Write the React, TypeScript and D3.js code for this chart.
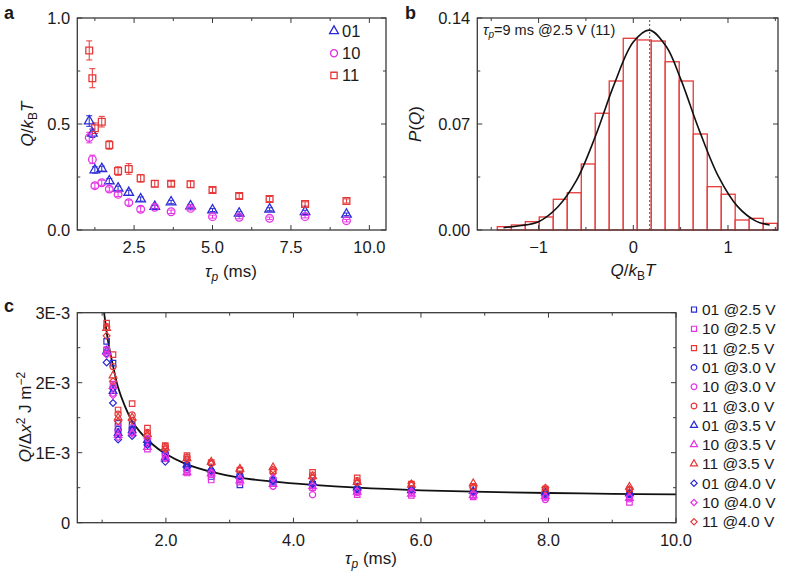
import React from 'react';
import * as d3 from 'd3';

// ---------------- DATA ----------------
// pulse durations (ms)
const TAU = [1.07, 1.17, 1.25, 1.47, 1.71, 1.99, 2.33, 2.71, 3.16, 3.68, 4.3, 5.0, 5.85, 6.82, 7.95, 9.27];

// Panel a: Q/kBT per bit state
const A_01 = [0.514, 0.456, 0.283, 0.289, 0.231, 0.197, 0.176, 0.146, 0.11, 0.132, 0.113, 0.094, 0.079, 0.098, 0.086, 0.074];
const A_01_ERR = [0.025, 0.02, 0.015, 0.012, 0.012, 0.01, 0.012, 0.01, 0.008, 0.008, 0.008, 0.007, 0.007, 0.007, 0.007, 0.006];
const A_10 = [0.436, 0.333, 0.209, 0.223, 0.193, 0.168, 0.129, 0.098, 0.107, 0.086, 0.102, 0.063, 0.06, 0.055, 0.063, 0.044];
const A_10_ERR = [0.025, 0.02, 0.012, 0.012, 0.01, 0.01, 0.012, 0.012, 0.008, 0.008, 0.008, 0.007, 0.007, 0.006, 0.006, 0.006];
const A_11 = [0.847, 0.716, 0.48, 0.511, 0.401, 0.278, 0.288, 0.244, 0.218, 0.218, 0.216, 0.189, 0.16, 0.146, 0.123, 0.137];
const A_11_ERR = [0.045, 0.045, 0.025, 0.025, 0.02, 0.02, 0.025, 0.018, 0.015, 0.012, 0.015, 0.012, 0.012, 0.012, 0.01, 0.01];
const A_LEGEND = ['01', '10', '11'];

// Panel b: histogram of Q/kBT
const B_EDGES = [-1.436, -1.288, -1.14, -0.993, -0.845, -0.697, -0.549, -0.402, -0.254, -0.106, 0.042, 0.19, 0.337, 0.485, 0.633, 0.781, 0.929, 1.076, 1.224, 1.372, 1.52];
const B_P = [0.0022, 0.0033, 0.0055, 0.0086, 0.0203, 0.0246, 0.0436, 0.0771, 0.0984, 0.1266, 0.1255, 0.1248, 0.1111, 0.0984, 0.0634, 0.0286, 0.0236, 0.0066, 0.0077, 0.0044];
const B_FIT_X = [-1.37, -1.2, -1.0, -0.8, -0.6, -0.4, -0.2, 0.0, 0.17, 0.35, 0.5, 0.7, 0.9, 1.1, 1.3, 1.44];
const B_FIT_Y = [0.0015, 0.0028, 0.0055, 0.015, 0.0327, 0.0619, 0.0965, 0.1241, 0.132, 0.121, 0.0998, 0.0653, 0.0352, 0.0156, 0.0057, 0.0033];
const B_MEAN = 0.173;
const B_NOTE = '=9 ms @2.5 V (11)';

// Panel c: Q/Δx² (units of 1E-3 J m^-2)
const C_01_25 = [2.59, 2.28, 1.42, 1.4, 1.13, 0.97, 0.82, 0.66, 0.54, 0.58, 0.55, 0.48, 0.48, 0.44, 0.42, 0.41];
const C_10_25 = [2.47, 1.98, 1.36, 1.36, 1.05, 0.95, 0.71, 0.61, 0.58, 0.56, 0.5, 0.4, 0.39, 0.37, 0.36, 0.29];
const C_11_25 = [2.85, 2.4, 1.61, 1.7, 1.35, 1.1, 0.96, 0.86, 0.75, 0.74, 0.72, 0.64, 0.55, 0.52, 0.48, 0.47];
const C_01_30 = [2.42, 1.92, 1.33, 1.34, 1.15, 0.99, 0.8, 0.74, 0.68, 0.6, 0.56, 0.47, 0.47, 0.43, 0.4, 0.4];
const C_10_30 = [2.48, 1.85, 1.3, 1.3, 1.17, 0.96, 0.76, 0.69, 0.61, 0.52, 0.4, 0.43, 0.43, 0.38, 0.33, 0.34];
const C_11_30 = [2.8, 2.23, 1.55, 1.54, 1.29, 1.09, 0.94, 0.85, 0.74, 0.72, 0.68, 0.6, 0.53, 0.5, 0.47, 0.46];
const C_01_35 = [2.45, 1.88, 1.28, 1.32, 1.18, 0.93, 0.83, 0.76, 0.67, 0.62, 0.57, 0.5, 0.46, 0.45, 0.43, 0.42];
const C_10_35 = [2.44, 1.95, 1.25, 1.28, 1.08, 0.91, 0.72, 0.7, 0.6, 0.55, 0.52, 0.44, 0.41, 0.39, 0.38, 0.35];
const C_11_35 = [2.78, 2.1, 1.5, 1.5, 1.26, 1.07, 0.92, 0.87, 0.77, 0.79, 0.66, 0.58, 0.54, 0.56, 0.46, 0.51];
const C_01_40 = [2.29, 1.71, 1.19, 1.24, 1.11, 0.87, 0.79, 0.73, 0.66, 0.6, 0.55, 0.49, 0.47, 0.44, 0.42, 0.41];
const C_10_40 = [2.4, 1.82, 1.22, 1.27, 1.2, 0.92, 0.74, 0.72, 0.63, 0.64, 0.53, 0.45, 0.45, 0.42, 0.37, 0.37];
const C_11_40 = [2.67, 2.02, 1.45, 1.46, 1.24, 1.05, 0.9, 0.84, 0.75, 0.76, 0.64, 0.57, 0.56, 0.51, 0.5, 0.48];
const C_LABELS = ['01 @2.5 V', '10 @2.5 V', '11 @2.5 V', '01 @3.0 V', '10 @3.0 V', '11 @3.0 V', '01 @3.5 V', '10 @3.5 V', '11 @3.5 V', '01 @4.0 V', '10 @4.0 V', '11 @4.0 V'];
const C_FIT_TAU = [1.03, 1.1, 1.18, 1.25, 1.35, 1.47, 1.6, 1.75, 2.0, 2.3, 2.7, 3.15, 3.65, 4.3, 5.0, 6.0, 7.0, 8.0, 9.0, 10.0];
const C_FIT_Q = [3.0, 2.55, 2.2, 1.93, 1.68, 1.45, 1.29, 1.15, 0.98, 0.845, 0.73, 0.645, 0.59, 0.54, 0.5, 0.463, 0.44, 0.424, 0.413, 0.405];

// tick values
const A_XTICKS = [2.5, 5.0, 7.5, 10.0];
const A_XMINOR = [1.25, 3.75, 6.25, 8.75];
const A_YTICKS = [0, 0.5, 1.0];
const A_YMINOR = [0.25, 0.75];
const B_XTICKS = [-1, 0, 1];
const B_XMINOR = [-1.5, -0.5, 0.5, 1.5];
const B_YTICKS = [0, 0.07, 0.14];
const B_YMINOR = [0.035, 0.105];
const C_XTICKS = [2, 4, 6, 8, 10];
const C_XMINOR = [1, 3, 5, 7, 9];
const C_YTICKS = [0, 1, 2, 3];
const C_YTICK_LABELS = ['0', '1E-3', '2E-3', '3E-3'];
const C_YMINOR = [0.5, 1.5, 2.5];

// ---------------- STYLE ----------------
const FONT = "'Liberation Sans', Arial, Helvetica, sans-serif";
const BLUE = '#2a2ad8';
const MAGENTA = '#e432e4';
const RED = '#e63838';
const FRAME = '#3a3a3a';
const TXT = '#1a1a1a';
const TICK_FS = 16.5;
const TITLE_FS = 17;

const symType: Record<string, any> = {
  square: d3.symbolSquare,
  circle: d3.symbolCircle,
  triangle: d3.symbolTriangle,
  diamond: (d3 as any).symbolDiamond2 || d3.symbolDiamond,
};

function Marker({ shape, x, y, size, color, sw = 1.2 }: any) {
  const d = d3.symbol().type(symType[shape]).size(size)() as string;
  return <path d={d} transform={`translate(${x},${y})`} fill="none" stroke={color} strokeWidth={sw} />;
}

function Frame({ xs, ys, xt, xm, yt, ym, xfmt, yfmt }: any) {
  const [x0, x1] = xs.range();
  const [y0, y1] = ys.range(); // y0 bottom, y1 top
  const MJ = 5, MN = 3;
  const els: any[] = [];
  xt.forEach((v: number, i: number) => {
    const x = xs(v);
    els.push(<line key={'xt' + i} x1={x} x2={x} y1={y0} y2={y0 - MJ} stroke={FRAME} strokeWidth={1} />);
    els.push(<line key={'xtt' + i} x1={x} x2={x} y1={y1} y2={y1 + MJ} stroke={FRAME} strokeWidth={1} />);
    els.push(<text key={'xl' + i} x={x} y={y0 + 23} textAnchor="middle" fontSize={TICK_FS} fill={TXT}>{xfmt(v, i)}</text>);
  });
  xm.forEach((v: number, i: number) => {
    const x = xs(v);
    if (x < x0 || x > x1) return;
    els.push(<line key={'xm' + i} x1={x} x2={x} y1={y0} y2={y0 - MN} stroke={FRAME} strokeWidth={1} />);
    els.push(<line key={'xmt' + i} x1={x} x2={x} y1={y1} y2={y1 + MN} stroke={FRAME} strokeWidth={1} />);
  });
  yt.forEach((v: number, i: number) => {
    const y = ys(v);
    els.push(<line key={'yt' + i} x1={x0} x2={x0 + MJ} y1={y} y2={y} stroke={FRAME} strokeWidth={1} />);
    els.push(<line key={'ytr' + i} x1={x1} x2={x1 - MJ} y1={y} y2={y} stroke={FRAME} strokeWidth={1} />);
    els.push(<text key={'yl' + i} x={x0 - 7} y={y + 6} textAnchor="end" fontSize={TICK_FS} fill={TXT}>{yfmt(v, i)}</text>);
  });
  ym.forEach((v: number, i: number) => {
    const y = ys(v);
    els.push(<line key={'ym' + i} x1={x0} x2={x0 + MN} y1={y} y2={y} stroke={FRAME} strokeWidth={1} />);
    els.push(<line key={'ymr' + i} x1={x1} x2={x1 - MN} y1={y} y2={y} stroke={FRAME} strokeWidth={1} />);
  });
  return (
    <g>
      {els}
      <rect x={x0} y={y1} width={x1 - x0} height={y0 - y1} fill="none" stroke={FRAME} strokeWidth={1.3} />
    </g>
  );
}

export default function App() {
  // scales
  const xA = d3.scaleLinear().domain([0.69, 10.53]).range([77.3, 386]);
  const yA = d3.scaleLinear().domain([0, 1]).range([230, 18]);
  const xB = d3.scaleLinear().domain([-1.647, 1.528]).range([477.3, 778]);
  const yB = d3.scaleLinear().domain([0, 0.14]).range([230, 18]);
  const xC = d3.scaleLinear().domain([0.61, 10]).range([77.3, 676]);
  const yC = d3.scaleLinear().domain([0, 3]).range([522.7, 312.7]);

  const aSeries = [
    { name: A_LEGEND[0], vals: A_01, err: A_01_ERR, color: BLUE, shape: 'triangle', size: 40 },
    { name: A_LEGEND[1], vals: A_10, err: A_10_ERR, color: MAGENTA, shape: 'circle', size: 46 },
    { name: A_LEGEND[2], vals: A_11, err: A_11_ERR, color: RED, shape: 'square', size: 46 },
  ];

  const cVals = [C_01_25, C_10_25, C_11_25, C_01_30, C_10_30, C_11_30, C_01_35, C_10_35, C_11_35, C_01_40, C_10_40, C_11_40];
  const cColors = [BLUE, MAGENTA, RED];
  const cShapes = ['square', 'circle', 'triangle', 'diamond'];
  const cSizes: Record<string, number> = { square: 30, circle: 30, triangle: 26, diamond: 30 };
  const cSeries = cVals.map((vals, i) => ({
    label: C_LABELS[i],
    vals,
    color: cColors[i % 3],
    shape: cShapes[Math.floor(i / 3)],
  }));

  const gaussLine = d3.line<number>().x((_, i) => xB(B_FIT_X[i])).y((v) => yB(v)).curve(d3.curveCatmullRom.alpha(0.5));
  const fitLine = d3.line<number>().x((_, i) => xC(C_FIT_TAU[i])).y((v) => yC(v)).curve(d3.curveCatmullRom.alpha(0.5));

  const fmt1 = (v: number) => v.toFixed(1);
  const fmt2 = (v: number) => v.toFixed(2);
  const fmtB = (v: number) => (v < 0 ? '\u2212' + Math.abs(v) : String(v));

  const QkT = (
    <>
      <tspan fontStyle="italic">Q</tspan>
      <tspan>/</tspan>
      <tspan fontStyle="italic">k</tspan>
      <tspan fontSize={12} dy={4}>B</tspan>
      <tspan fontStyle="italic" dy={-4}>T</tspan>
    </>
  );

  return (
    <svg width={788} height={576} style={{ position: 'absolute', left: 0, top: 0, background: '#fff' }} fontFamily={FONT}>
      <defs>
        <clipPath id="clipC"><rect x={77.3} y={312.7} width={676 - 77.3} height={210} /></clipPath>
        <clipPath id="clipA"><rect x={77.3} y={18} width={386 - 77.3} height={212} /></clipPath>
      </defs>

      {/* ---------- Panel a ---------- */}
      <text x={4} y={19} fontSize={18} fontWeight="bold" fill={TXT}>a</text>
      <g clipPath="url(#clipA)">
        {aSeries.map((s) => (
          <g key={s.name}>
            {s.vals.map((v, i) => {
              const x = xA(TAU[i]);
              const ylo = yA(v - s.err[i]);
              const yhi = yA(v + s.err[i]);
              return (
                <g key={i}>
                  <line x1={x} x2={x} y1={ylo} y2={yhi} stroke={s.color} strokeWidth={1} />
                  <line x1={x - 3} x2={x + 3} y1={ylo} y2={ylo} stroke={s.color} strokeWidth={1} />
                  <line x1={x - 3} x2={x + 3} y1={yhi} y2={yhi} stroke={s.color} strokeWidth={1} />
                </g>
              );
            })}
          </g>
        ))}
        {aSeries.map((s) => (
          <g key={s.name + 'm'}>
            {s.vals.map((v, i) => (
              <g key={i}>
                <Marker shape={s.shape} x={xA(TAU[i])} y={yA(v)} size={s.size} color={s.color} sw={1.3} />
              </g>
            ))}
          </g>
        ))}
      </g>
      <Frame xs={xA} ys={yA} xt={A_XTICKS} xm={A_XMINOR} yt={A_YTICKS} ym={A_YMINOR} xfmt={fmt1} yfmt={fmt1} />
      {aSeries.map((s, i) => (
        <g key={'la' + i}>
          <Marker shape={s.shape} x={334} y={31 + i * 22.2} size={s.size * 0.85} color={s.color} sw={1.3} />
          <text x={342} y={31 + i * 22.2 + 6} fontSize={16.5} fill={TXT}>{s.name}</text>
        </g>
      ))}
      <text x={231} y={277} textAnchor="middle" fontSize={TITLE_FS} fill={TXT}>
        <tspan fontStyle="italic">τ</tspan>
        <tspan fontStyle="italic" fontSize={12} dy={4}>p</tspan>
        <tspan dy={-4}> (ms)</tspan>
      </text>
      <text transform="translate(33,124) rotate(-90)" textAnchor="middle" fontSize={TITLE_FS} fill={TXT}>
        {QkT}
      </text>

      {/* ---------- Panel b ---------- */}
      <text x={405} y={19} fontSize={18} fontWeight="bold" fill={TXT}>b</text>
      {B_P.map((p, i) => (
        <rect key={'h' + i} x={xB(B_EDGES[i])} y={yB(p)} width={xB(B_EDGES[i + 1]) - xB(B_EDGES[i])} height={yB(0) - yB(p)} fill="#fff" stroke={RED} strokeWidth={1.3} />
      ))}
      <line x1={xB(B_MEAN)} x2={xB(B_MEAN)} y1={yB(0)} y2={yB(0.14)} stroke="#555" strokeWidth={1} strokeDasharray="2,2" />
      <path d={gaussLine(B_FIT_Y) as string} fill="none" stroke="#111" strokeWidth={1.6} />
      <Frame xs={xB} ys={yB} xt={B_XTICKS} xm={B_XMINOR} yt={B_YTICKS} ym={B_YMINOR} xfmt={fmtB} yfmt={fmt2} />
      <text x={483} y={35} fontSize={14.5} fill={TXT}>
        <tspan fontStyle="italic">τ</tspan>
        <tspan fontStyle="italic" fontSize={10} dy={3}>p</tspan>
        <tspan dy={-3}>{B_NOTE}</tspan>
      </text>
      <text x={633} y={276} textAnchor="middle" fontSize={TITLE_FS} fill={TXT}>
        {QkT}
      </text>
      <text transform="translate(421,124) rotate(-90)" textAnchor="middle" fontSize={TITLE_FS} fill={TXT}>
        <tspan fontStyle="italic">P</tspan>
        <tspan>(</tspan>
        <tspan fontStyle="italic">Q</tspan>
        <tspan>)</tspan>
      </text>

      {/* ---------- Panel c ---------- */}
      <text x={4} y={312} fontSize={18} fontWeight="bold" fill={TXT}>c</text>
      <g clipPath="url(#clipC)">
        <path d={fitLine(C_FIT_Q) as string} fill="none" stroke="#111" strokeWidth={1.8} />
        {cSeries.map((s, si) => (
          <g key={'cs' + si}>
            {s.vals.map((v, i) => (
              <g key={i}>
                <Marker shape={s.shape} x={xC(TAU[i])} y={yC(v)} size={cSizes[s.shape]} color={s.color} sw={1.2} />
              </g>
            ))}
          </g>
        ))}
      </g>
      <Frame xs={xC} ys={yC} xt={C_XTICKS} xm={C_XMINOR} yt={C_YTICKS} ym={C_YMINOR} xfmt={fmt1} yfmt={(v: number, i: number) => C_YTICK_LABELS[i]} />
      {cSeries.map((s, i) => (
        <g key={'lc' + i}>
          <Marker shape={s.shape} x={694} y={309.5 + i * 19.3} size={cSizes[s.shape] * 0.85} color={s.color} sw={1.2} />
          <text x={702} y={309.5 + i * 19.3 + 5.5} fontSize={15.5} fill={TXT}>{s.label}</text>
        </g>
      ))}
      <text x={371} y={564} textAnchor="middle" fontSize={TITLE_FS} fill={TXT}>
        <tspan fontStyle="italic">τ</tspan>
        <tspan fontStyle="italic" fontSize={12} dy={4}>p</tspan>
        <tspan dy={-4}> (ms)</tspan>
      </text>
      <text transform="translate(31,417) rotate(-90)" textAnchor="middle" fontSize={TITLE_FS} fill={TXT}>
        <tspan fontStyle="italic">Q</tspan>
        <tspan>/Δ</tspan>
        <tspan fontStyle="italic">x</tspan>
        <tspan fontSize={12} dy={-6}>2</tspan>
        <tspan dy={6}> J m</tspan>
        <tspan fontSize={12} dy={-6}>−2</tspan>
      </text>
    </svg>
  );
}
